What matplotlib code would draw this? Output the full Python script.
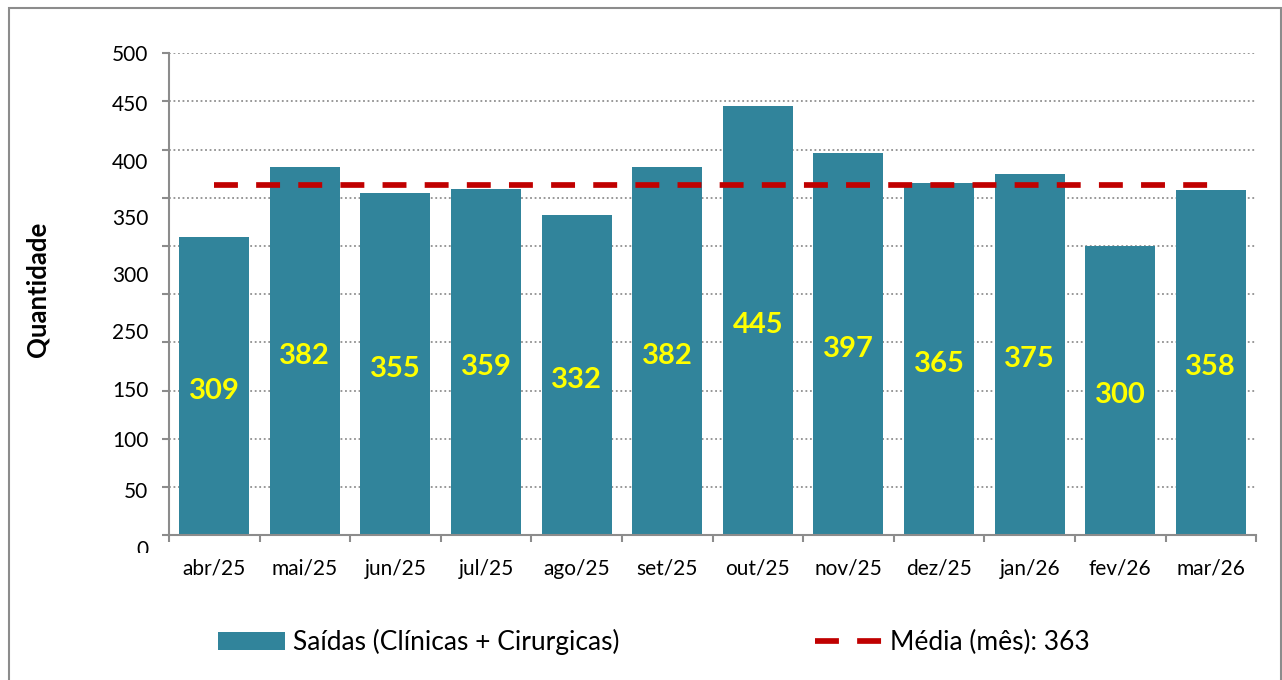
import matplotlib
matplotlib.use("Agg")
import matplotlib.pyplot as plt
from matplotlib.patches import Patch, Rectangle
from matplotlib.lines import Line2D
from matplotlib.transforms import Bbox, TransformedBbox, blended_transform_factory

plt.rcParams['font.family'] = ['Lato', 'DejaVu Sans']

meses = ['abr/25', 'mai/25', 'jun/25', 'jul/25', 'ago/25', 'set/25',
         'out/25', 'nov/25', 'dez/25', 'jan/26', 'fev/26', 'mar/26']
saidas = [309, 382, 355, 359, 332, 382, 445, 397, 365, 375, 300, 358]
media = 363

# y labels as they appear in the original (misplaced by the source program)
ylab_text = ['500', '450', '400', '350', '300', '250', '150', '100', '50', '0']
ylab_pos = [498, 446, 386, 328, 269, 210, 149, 98, 45, -16]

azul = '#31849B'
vermelho = '#C00000'
cinza = '#8C8C8C'

fig = plt.figure(figsize=(12.82, 6.8), dpi=100)
ax = fig.add_axes([0.1318, 0.2132, 0.848, 0.7084])

x = list(range(len(meses)))
ax.bar(x, saidas, width=0.773, color=azul, zorder=2)
ax.plot([x[0], x[-1]], [media, media], color=vermelho, lw=4.1,
        dashes=(4.2, 3.2), zorder=3)

for xi, v in zip(x, saidas):
    ax.text(xi, v / 2 - 5, str(v), ha='center', va='center',
            color='#FFFF00', fontsize=21, fontweight='bold', zorder=4)

ax.set_xlim(-0.5, len(meses) - 0.5)
ax.set_ylim(0, 500)

ax.set_xticks(x)
ax.set_xticklabels(meses, fontsize=15)
ax.tick_params(axis='x', which='major', length=0, pad=17)
ax.set_xticks([i - 0.5 for i in range(len(meses) + 1)], minor=True)
ax.tick_params(axis='x', which='minor', length=5, width=1.5, color=cinza)

ax.set_yticks(range(0, 501, 50))
ax.set_yticklabels([''] * 11)
ax.tick_params(axis='y', length=5, width=1.5, color=cinza)

trans = blended_transform_factory(ax.transAxes, ax.transData)
clip = TransformedBbox(Bbox([[0, 0.1868], [1, 1]]), fig.transFigure)
for t, p in zip(ylab_text, ylab_pos):
    txt = ax.text(-0.019, p, t, transform=trans, ha='right', va='center',
                  fontsize=15, clip_on=True)
    txt.set_clip_box(clip)

ax.yaxis.grid(True, color='#909090', linestyle=(0, (1, 1.5)), lw=1.3, zorder=0)
ax.set_axisbelow(True)
for s in ['top', 'right']:
    ax.spines[s].set_visible(False)
for s in ['left', 'bottom']:
    ax.spines[s].set_color(cinza)
    ax.spines[s].set_linewidth(1.5)

fig.text(0.0289, 0.574, 'Quantidade', rotation=90, ha='center', va='center',
         fontsize=18.5, fontweight='bold')

handles = [Patch(facecolor=azul, edgecolor='none'),
           Line2D([0], [0], color=vermelho, lw=4.1, dashes=(4.2, 3.2))]
fig.legend(handles, ['Saídas (Clínicas + Cirurgicas)', 'Média (mês): 363'],
           loc='center', bbox_to_anchor=(0.51, 0.056), ncol=2, frameon=False,
           fontsize=19, handlelength=2.55, handleheight=0.65,
           handletextpad=0.3, columnspacing=7.4)

fig.add_artist(Rectangle((9 / 1282, -0.05), 1272 / 1282, 672 / 680 + 0.05,
                         transform=fig.transFigure, fill=False,
                         edgecolor=cinza, lw=1.5))

fig.savefig('out.png', dpi=100)
